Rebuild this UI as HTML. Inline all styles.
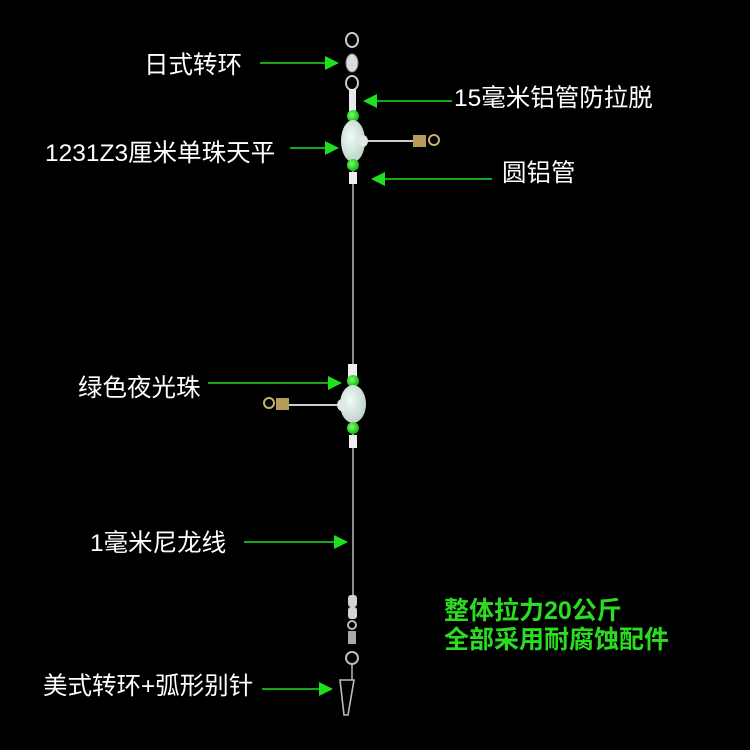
<!DOCTYPE html>
<html><head><meta charset="utf-8"><style>
html,body{margin:0;padding:0;background:#000;}
svg{display:block}
.t{font-family:"Liberation Sans","Noto Sans CJK SC",sans-serif;fill:#fff;font-size:24.5px;}
.g{font-family:"Liberation Sans","Noto Sans CJK SC",sans-serif;fill:#2bdc22;font-size:25px;font-weight:bold;}
</style></head><body>
<svg width="750" height="750" viewBox="0 0 750 750" xmlns="http://www.w3.org/2000/svg">
<defs>
<marker id="ah" markerWidth="14" markerHeight="14" refX="12" refY="7" orient="auto" markerUnits="userSpaceOnUse">
<path d="M0,0 L14,7 L0,14 z" fill="#1ee01e"/>
</marker>
<radialGradient id="wb" cx="0.4" cy="0.4" r="0.7"><stop offset="0" stop-color="#f2fbf6"/><stop offset="1" stop-color="#b8cfc6"/></radialGradient>
<radialGradient id="gb" cx="0.4" cy="0.4" r="0.6"><stop offset="0" stop-color="#7dff6a"/><stop offset="1" stop-color="#13b813"/></radialGradient>
</defs>
<rect width="750" height="750" fill="#000"/>

<line x1="353" y1="110" x2="353" y2="595" stroke="#bbb" stroke-width="1.5"/>

<ellipse cx="352" cy="40" rx="6" ry="7" fill="none" stroke="#ccc" stroke-width="2"/>
<ellipse cx="352" cy="63" rx="6" ry="9" fill="#ddd" stroke="#888" stroke-width="1"/>
<ellipse cx="352" cy="83" rx="6" ry="7" fill="none" stroke="#ccc" stroke-width="2"/>
<rect x="349" y="89" width="7" height="24" fill="#e8e8e8"/>
<circle cx="353" cy="116" r="6" fill="url(#gb)"/>
<line x1="360" y1="141" x2="415" y2="141" stroke="#ccc" stroke-width="2"/>
<rect x="413" y="135" width="13" height="12" fill="#b79b5a"/>
<circle cx="434" cy="140" r="5" fill="none" stroke="#c9b07a" stroke-width="2"/>
<ellipse cx="353" cy="141" rx="12" ry="21" fill="url(#wb)"/>
<ellipse cx="363" cy="141" rx="5" ry="6" fill="#dfe9e4"/>
<circle cx="353" cy="165" r="6" fill="url(#gb)"/>
<rect x="349" y="172" width="8" height="12" fill="#eee"/>

<rect x="348" y="364" width="9" height="14" fill="#eee"/>
<circle cx="353" cy="381" r="6" fill="url(#gb)"/>
<line x1="285" y1="405" x2="345" y2="405" stroke="#ccc" stroke-width="2"/>
<rect x="276" y="398" width="13" height="12" fill="#b79b5a"/>
<circle cx="269" cy="403" r="5" fill="none" stroke="#c9b07a" stroke-width="2"/>
<ellipse cx="353" cy="404" rx="13" ry="19" fill="url(#wb)"/>
<ellipse cx="342" cy="405" rx="5" ry="6" fill="#dfe9e4"/>
<circle cx="353" cy="428" r="6" fill="url(#gb)"/>
<rect x="349" y="435" width="8" height="13" fill="#eee"/>

<rect x="348" y="595" width="9" height="12" rx="3" fill="#cfd6cc"/>
<rect x="348" y="607" width="9" height="12" rx="3" fill="#cfd6cc"/>
<circle cx="352" cy="625" r="4" fill="none" stroke="#bbb" stroke-width="2"/>
<rect x="348" y="631" width="8" height="13" fill="#aaa"/>
<circle cx="352" cy="658" r="6" fill="none" stroke="#bbb" stroke-width="2"/>
<path d="M340,680 L354,680 L348,715 L344,715 Z" fill="none" stroke="#bbb" stroke-width="1.6"/>
<line x1="352" y1="664" x2="352" y2="680" stroke="#bbb" stroke-width="1.5"/>

<g stroke="#1ee01e" stroke-width="1.5" marker-end="url(#ah)">
<line x1="260" y1="63" x2="337" y2="63"/>
<line x1="452" y1="101" x2="365" y2="101"/>
<line x1="290" y1="148" x2="337" y2="148"/>
<line x1="492" y1="179" x2="373" y2="179"/>
<line x1="208" y1="383" x2="340" y2="383"/>
<line x1="244" y1="542" x2="346" y2="542"/>
<line x1="262" y1="689" x2="331" y2="689"/>
</g>

<text class="t" x="144" y="73">日式转环</text>
<text class="t" x="454" y="106">15毫米铝管防拉脱</text>
<text class="t" x="45" y="161">1231Z3厘米单珠天平</text>
<text class="t" x="502" y="181">圆铝管</text>
<text class="t" x="78" y="396">绿色夜光珠</text>
<text class="t" x="90" y="551">1毫米尼龙线</text>
<text class="t" x="43" y="694">美式转环+弧形别针</text>
<text class="g" x="444" y="619">整体拉力20公斤</text>
<text class="g" x="444" y="648">全部采用耐腐蚀配件</text>
</svg>
</body></html>
